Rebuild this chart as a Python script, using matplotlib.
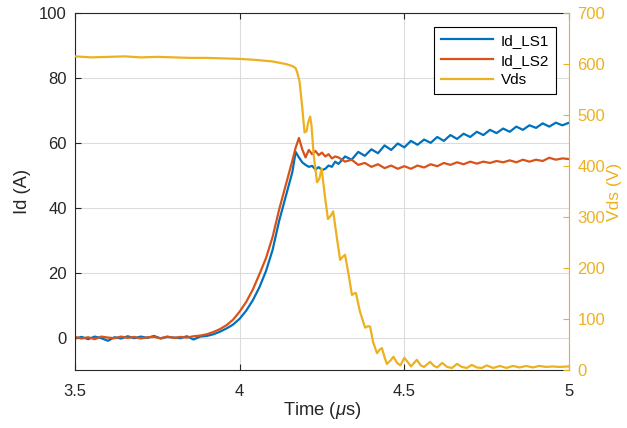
import matplotlib
matplotlib.use("Agg")
import matplotlib.pyplot as plt

plt.rcParams['font.family'] = ['Liberation Sans', 'DejaVu Sans']
plt.rcParams['mathtext.fontset'] = 'custom'
plt.rcParams['mathtext.rm'] = 'Liberation Sans'
plt.rcParams['mathtext.it'] = 'Liberation Sans:italic'

# time base for the two current traces (us)
t_id = [3.50, 3.52, 3.54, 3.56, 3.58, 3.60, 3.62, 3.64, 3.66, 3.68,
        3.70, 3.72, 3.74, 3.76, 3.78, 3.80, 3.82, 3.84, 3.86, 3.88,
        3.90, 3.92, 3.94, 3.96, 3.98, 4.00, 4.02, 4.04, 4.06, 4.08,
        4.10, 4.12, 4.14, 4.16,
        4.17, 4.18, 4.19, 4.20, 4.21, 4.22, 4.23, 4.24, 4.25, 4.26,
        4.27, 4.28, 4.29,
        4.30, 4.32, 4.34, 4.36, 4.38, 4.40, 4.42, 4.44, 4.46, 4.48,
        4.50, 4.52, 4.54, 4.56, 4.58, 4.60, 4.62, 4.64, 4.66, 4.68,
        4.70, 4.72, 4.74, 4.76, 4.78, 4.80, 4.82, 4.84, 4.86, 4.88,
        4.90, 4.92, 4.94, 4.96, 4.98, 5.00]

id_ls1 = [-0.3, 0.2, -0.5, 0.3, -0.2, -1.0, 0.1, -0.3, 0.4, -0.2,
          0.3, -0.1, 0.5, -0.3, 0.2, 0.0, -0.2, 0.4, -0.6, 0.3,
          0.5, 1.0, 1.8, 2.8, 4.0, 5.8, 8.3, 11.5, 15.5, 20.5,
          27.0, 36.0, 43.5, 51.0,
          57.2, 55.5, 54.0, 53.2, 52.6, 52.9, 51.8, 52.5, 51.6, 52.0,
          53.0, 52.6, 54.2,
          53.5, 55.8, 54.8, 57.2, 56.0, 58.0, 56.8, 59.2, 57.8, 59.8,
          58.6, 60.6, 59.4, 61.0, 60.0, 61.8, 60.6, 62.4, 61.2, 62.8,
          61.8, 63.4, 62.4, 64.0, 63.0, 64.4, 63.4, 65.0, 64.0, 65.4,
          64.6, 66.0, 65.0, 66.2, 65.4, 66.2]

id_ls2 = [0.2, -0.3, 0.1, -0.5, 0.3, 0.0, -0.2, 0.3, -0.1, 0.2,
          -0.3, 0.1, 0.2, -0.2, 0.3, -0.1, 0.2, 0.0, 0.4, 0.6,
          1.0, 1.7, 2.6, 3.8, 5.5, 8.0, 11.0, 14.8, 19.5, 24.5,
          31.0, 39.5, 47.0, 54.5,
          58.5, 61.5, 58.0, 55.5, 57.8, 56.5, 57.5, 56.2, 57.0, 55.8,
          56.5, 55.2, 55.8,
          55.5, 54.2, 54.8, 53.2, 53.8, 52.6, 53.4, 52.2, 53.0, 52.0,
          52.8, 52.0, 53.0, 52.4, 53.4, 52.8, 53.8, 53.2, 54.0, 53.4,
          54.2, 53.6, 54.2, 53.8, 54.4, 54.0, 54.6, 54.0, 54.8, 54.2,
          54.8, 54.4, 55.4, 54.8, 55.2, 55.0]

t_vds = [3.50, 3.55, 3.60, 3.65, 3.70, 3.75, 3.80, 3.85, 3.90, 3.95,
         4.00, 4.05, 4.10, 4.14, 4.16, 4.17, 4.175, 4.182, 4.19, 4.197,
         4.203, 4.208, 4.214, 4.218, 4.225, 4.235, 4.242, 4.249, 4.258, 4.268,
         4.276, 4.284, 4.295, 4.305, 4.313, 4.32, 4.33, 4.341, 4.347, 4.353,
         4.365, 4.381, 4.39, 4.396, 4.405, 4.417, 4.425, 4.432, 4.44, 4.447,
         4.457, 4.467, 4.478, 4.488, 4.50, 4.51, 4.52, 4.538, 4.55, 4.56,
         4.578, 4.59, 4.60, 4.615, 4.63, 4.645, 4.66, 4.675, 4.69, 4.705,
         4.72, 4.735, 4.75, 4.77, 4.79, 4.81, 4.83, 4.85, 4.87, 4.89,
         4.91, 4.93, 4.95, 4.97, 5.00]

vds = [615, 613, 614, 615, 613, 614, 613, 612, 612, 611,
       610, 608, 605, 600, 596, 592, 583, 565, 515, 466,
       468, 485, 497, 480, 420, 368, 375, 395, 345, 296,
       302, 311, 260, 216, 222, 226, 190, 147, 150, 151,
       115, 83, 86, 85, 55, 33, 40, 43, 25, 12,
       18, 26, 14, 9, 24, 16, 7, 20, 9, 6,
       16, 8, 5, 14, 6, 4, 12, 6, 4, 10,
       5, 4, 9, 4, 8, 4, 8, 5, 8, 5,
       8, 6, 7, 6, 7]

c_blue = '#0072BD'
c_red = '#D95319'
c_yel = '#EDB120'
c_ax = '#262626'

fig = plt.figure(figsize=(6.27, 4.28), dpi=100)
ax = fig.add_axes([0.1196, 0.1355, 0.7879, 0.8341])
ax2 = ax.twinx()

l1, = ax.plot(t_id, id_ls1, color=c_blue, lw=1.6, label='Id_LS1')
l2, = ax.plot(t_id, id_ls2, color=c_red, lw=1.6, label='Id_LS2')
l3, = ax2.plot(t_vds, vds, color=c_yel, lw=1.6, label='Vds')

ax.set_xlim(3.5, 5)
ax.set_ylim(-10, 100)
ax.set_xticks([3.5, 4, 4.5, 5])
ax.set_xticklabels(['3.5', '4', '4.5', '5'])
ax.set_yticks([0, 20, 40, 60, 80, 100])
ax2.set_ylim(0, 700)
ax2.set_yticks([0, 100, 200, 300, 400, 500, 600, 700])

ax.grid(True, color='#dcdcdc', lw=0.8)
ax.set_axisbelow(True)

ax.tick_params(axis='both', direction='in', length=4, width=0.8,
               colors=c_ax, labelsize=12, top=True, pad=6)
ax.tick_params(axis='x', pad=10)
ax2.tick_params(axis='y', direction='in', length=4, width=0.8,
                colors=c_yel, labelsize=12, pad=6)

for s in ['left', 'bottom', 'top']:
    ax.spines[s].set_color(c_ax)
    ax.spines[s].set_linewidth(0.8)
for s in ['left', 'bottom', 'top']:
    ax2.spines[s].set_visible(False)
ax2.spines['right'].set_color(c_yel)
ax2.spines['right'].set_linewidth(0.8)
ax.spines['right'].set_visible(False)

ax.set_xlabel('Time ($\\mu$s)', fontsize=13.2, color=c_ax, labelpad=1)
ax.set_ylabel('Id (A)', fontsize=13.2, color=c_ax, labelpad=6)
# right label sits at the very edge, as in the source figure
ax2.set_ylabel('Vds (V)', fontsize=12.5, color=c_yel, labelpad=1)

leg = ax2.legend(handles=[l1, l2, l3], loc='upper right',
                 bbox_to_anchor=(0.974, 0.961), borderaxespad=0,
                 fancybox=False, framealpha=1, edgecolor='black',
                 fontsize=11, handlelength=3.4, borderpad=0.45,
                 labelspacing=0.38, handletextpad=0.5)
leg.get_frame().set_linewidth(0.8)

fig.savefig('out.png', dpi=100)
